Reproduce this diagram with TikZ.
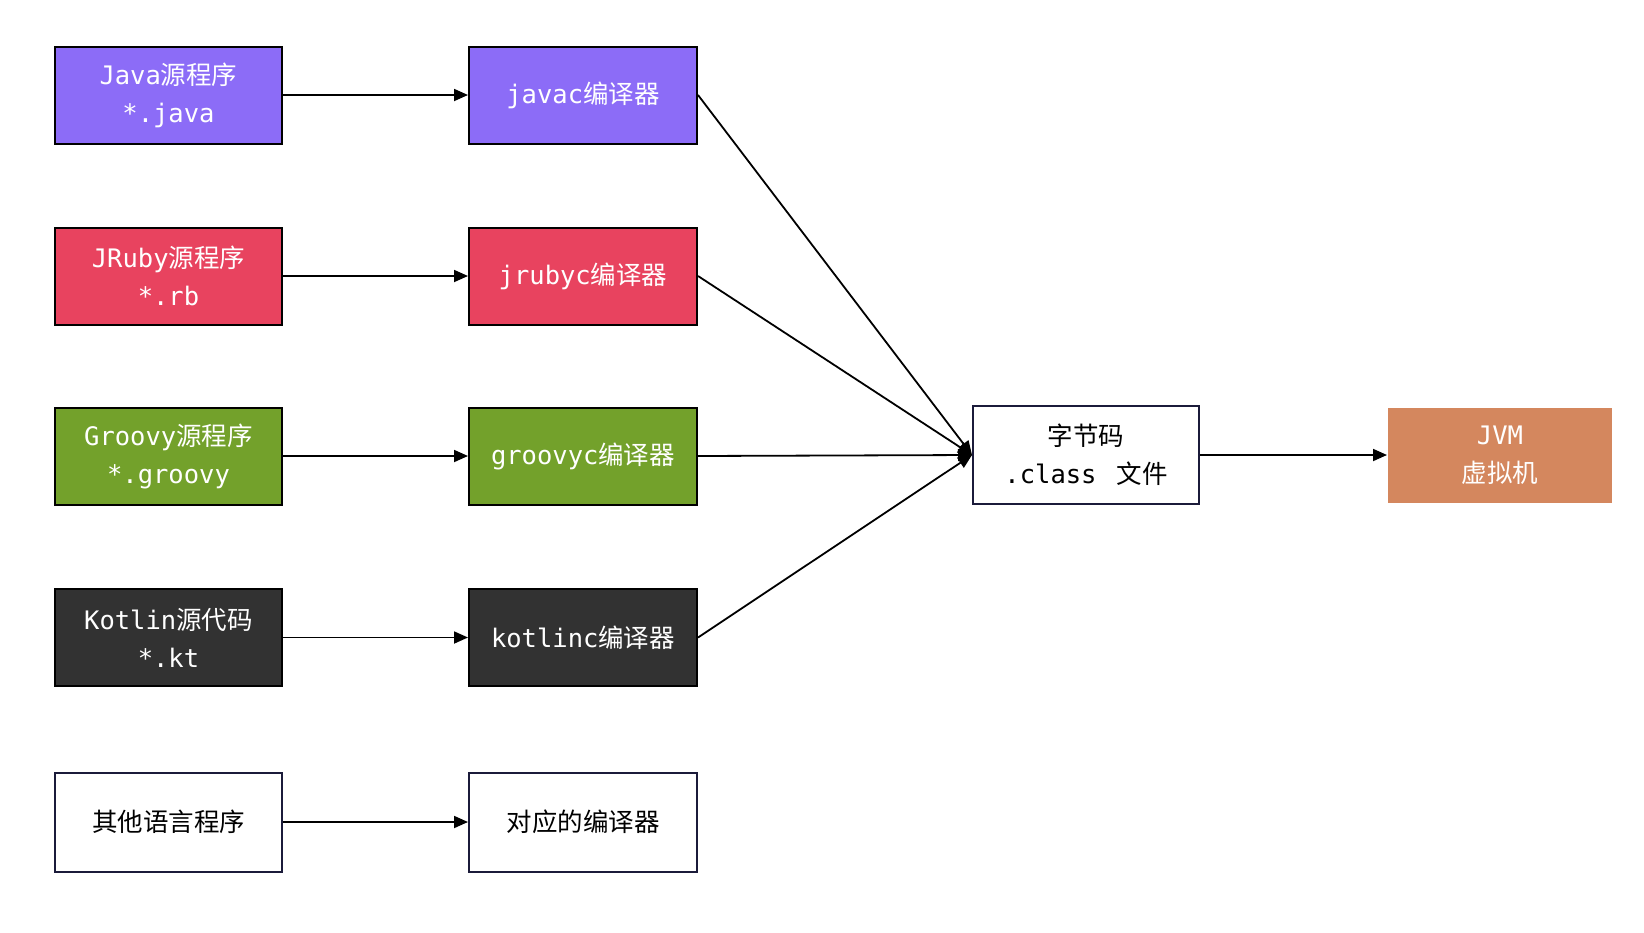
\documentclass[tikz,border=0pt]{standalone}
\usepackage{fontspec}
\setmainfont{Noto Sans CJK SC}
\newfontfamily\monof{DejaVu Sans Mono}
\usetikzlibrary{arrows.meta}
\definecolor{cpurple}{HTML}{8C6CF7}
\definecolor{cred}{HTML}{E8435F}
\definecolor{cgreen}{HTML}{73A12B}
\definecolor{cdark}{HTML}{323232}
\definecolor{corange}{HTML}{D4875E}
\definecolor{cnavy}{HTML}{1B1B3A}
\newcommand\mn[1]{{\monof #1}}
\begin{document}
\begin{tikzpicture}[x=1pt,y=-1pt,
  box/.style={draw=black,line width=2pt,minimum width=227pt,minimum height=97pt,inner sep=0pt,
    align=center,font=\fontsize{25.5}{38}\selectfont,text=white},
  wbox/.style={box,draw=cnavy,fill=white,text=black},
  conn/.style={line width=1.8pt,-{Triangle[length=14pt,width=12pt]}}]
\useasboundingbox (0,0) rectangle (1644,932);
\fill[white] (0,0) rectangle (1644,932);
% sources
\node[box,fill=cpurple] (s1) at (168.5,95) {\mn{Java}源程序\\\mn{*.java}};
\node[box,fill=cred] (s2) at (168.5,276) {\mn{JRuby}源程序\\\mn{*.rb}};
\node[box,fill=cgreen] (s3) at (168.5,456) {\mn{Groovy}源程序\\\mn{*.groovy}};
\node[box,fill=cdark] (s4) at (168.5,637.5) {\mn{Kotlin}源代码\\\mn{*.kt}};
\node[wbox,minimum height=99pt] (s5) at (168.5,822) {其他语言程序};
% compilers
\node[box,fill=cpurple,minimum width=228pt] (c1) at (583,95) {\mn{javac}编译器};
\node[box,fill=cred,minimum width=228pt] (c2) at (583,276) {\mn{jrubyc}编译器};
\node[box,fill=cgreen,minimum width=228pt] (c3) at (583,456) {\mn{groovyc}编译器};
\node[box,fill=cdark,minimum width=228pt] (c4) at (583,637.5) {\mn{kotlinc}编译器};
\node[wbox,minimum width=228pt,minimum height=99pt] (c5) at (583,822) {对应的编译器};
% bytecode and JVM
\node[wbox,minimum width=226pt,minimum height=98pt] (bc) at (1086,455) {字节码\\\mn{.class}\hspace{20pt}文件};
\node[box,draw=none,fill=corange,minimum width=224pt,minimum height=95pt] (jvm) at (1500,455) {\mn{JVM}\\虚拟机};
% connectors
\foreach \i in {1,...,5} {\draw[conn] (s\i.east) -- (c\i.west);}
\foreach \i in {1,...,4} {\draw[conn] (c\i.east) -- (bc.west);}
\draw[conn] (bc.east) -- (jvm.west);
\end{tikzpicture}
\end{document}
